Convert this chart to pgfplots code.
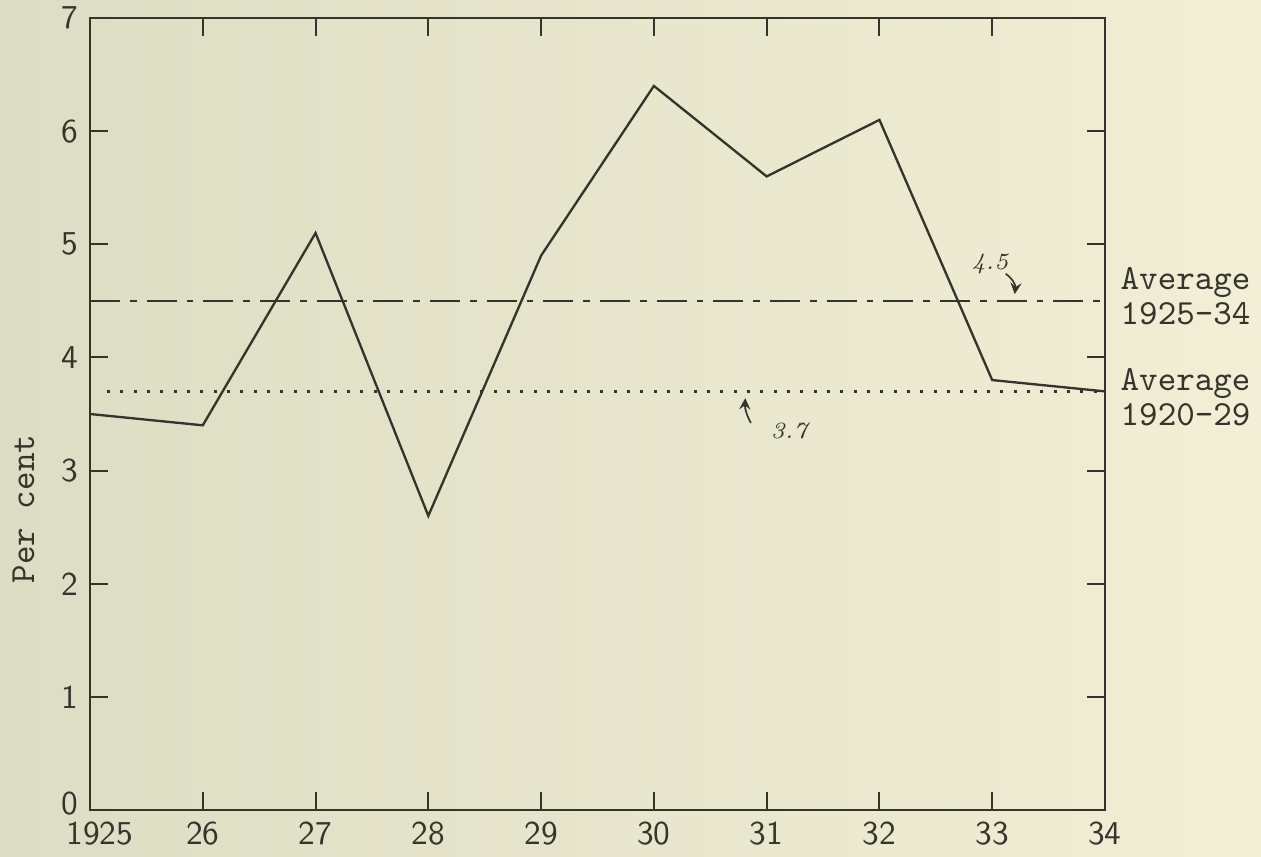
\documentclass[border=0pt]{standalone}
\usepackage{pgfplots}
\pgfplotsset{compat=1.18}
\definecolor{paperL}{RGB}{220,221,196}
\definecolor{paperM}{RGB}{234,233,208}
\definecolor{paperR}{RGB}{243,238,214}
\definecolor{ink}{RGB}{52,52,44}
\begin{document}
\begin{tikzpicture}
\shade[left color=paperL, middle color=paperM, right color=paperR] (0,0) rectangle (378.3pt,257.1pt);
\useasboundingbox (0,0) rectangle (378.3pt,257.1pt);
\begin{axis}[
  at={(27pt,14.1pt)}, anchor=south west,
  scale only axis, width=304.5pt, height=237.6pt,
  xmin=1925, xmax=1934, ymin=0, ymax=7,
  xtick={1925,1926,1927,1928,1929,1930,1931,1932,1933,1934},
  xticklabels={\hspace*{6pt}1925,26,27,28,29,30,31,32,33,34},
  ytick={0,1,2,3,4,5,6,7},
  yticklabels={\raisebox{4pt}{0},1,2,3,4,5,6,7},
  tick align=inside,
  major tick length=5.5pt,
  tick style={ink, line width=0.6pt},
  axis line style={ink, line width=0.7pt},
  tick label style={font=\fontsize{10}{11}\sffamily, text=ink},
  ylabel={Per cent},
  ylabel style={at={(axis description cs:0,0.38)}, anchor=center, yshift=20pt, font=\fontsize{10.6}{12}\ttfamily, text=ink},
  clip=false,
]
\addplot[ink, line width=0.7pt] coordinates {
  (1925,3.5) (1926,3.4) (1927,5.1) (1928,2.6) (1929,4.9)
  (1930,6.4) (1931,5.6) (1932,6.1) (1933,3.8) (1934,3.7)
};
\addplot[ink, line width=0.6pt, dash pattern=on 9pt off 3pt on 2pt off 3pt] coordinates {(1925,4.5) (1934,4.5)};
\addplot[ink, line width=0.8pt, dash pattern=on 0.9pt off 3.1pt] coordinates {(1925.15,3.7) (1934,3.7)};
\node[anchor=west, align=left, inner sep=0pt, xshift=4.5pt, font=\fontsize{10.6}{10.5}\ttfamily, text=ink] at (axis cs:1934,4.54) {Average\\1925-34};
\node[anchor=west, align=left, inner sep=0pt, xshift=4.5pt, font=\fontsize{10.6}{10.5}\ttfamily, text=ink] at (axis cs:1934,3.65) {Average\\1920-29};
\node[font=\itshape\fontsize{7}{8}\selectfont, text=ink] at (axis cs:1932.98,4.83) {4.5};
\draw[ink, line width=0.5pt, ->, >=stealth] (axis cs:1933.12,4.74) to[bend left=30] (axis cs:1933.2,4.56);
\draw[ink, line width=0.5pt, ->, >=stealth] (axis cs:1930.86,3.42) to[bend left=15] (axis cs:1930.81,3.64);
\node[font=\itshape\fontsize{7}{8}\selectfont, text=ink] at (axis cs:1931.2,3.35) {3.7};
\end{axis}
\end{tikzpicture}
\end{document}
